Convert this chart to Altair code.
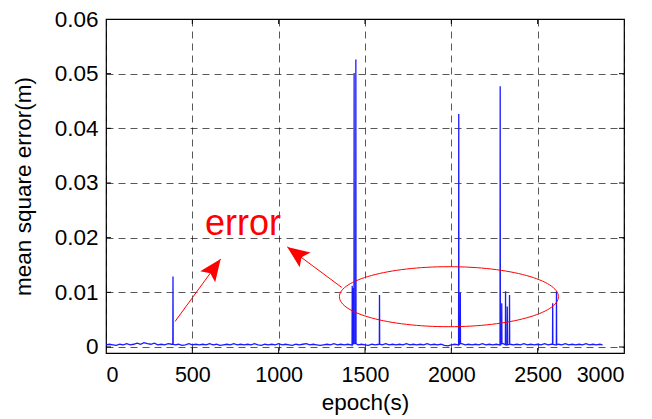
import altair as alt
import pandas as pd

# ---------------- data ----------------
# low-level error, sampled every 20 epochs (0 ... 2860), plus last epoch 2876
baseline_step = 20
baseline = [
    0.0004, 0.0005, 0.0004, 0.0003, 0.0005, 0.0004, 0.0006, 0.0004, 0.0005, 0.0007,
    0.0005, 0.0008, 0.0006, 0.0005, 0.0007, 0.0004, 0.0005, 0.0004, 0.0006, 0.0005,
    0.0004, 0.0005, 0.0003, 0.0004, 0.0006, 0.0004, 0.0005, 0.0004, 0.0005, 0.0004,
    0.0006, 0.0004, 0.0005, 0.0003, 0.0004, 0.0005, 0.0004, 0.0006, 0.0004, 0.0005,
    0.0004, 0.0005, 0.0004, 0.0006, 0.0004, 0.0003, 0.0005, 0.0004, 0.0005, 0.0004,
    0.0006, 0.0004, 0.0005, 0.0004, 0.0003, 0.0005, 0.0004, 0.0005, 0.0006, 0.0004,
    0.0005, 0.0004, 0.0003, 0.0004, 0.0005, 0.0004, 0.0006, 0.0004, 0.0005, 0.0004,
    0.0005, 0.0004, 0.0006, 0.0004, 0.0005, 0.0004, 0.0003, 0.0005, 0.0004, 0.0005,
    0.0004, 0.0006, 0.0004, 0.0005, 0.0004, 0.0005, 0.0004, 0.0006, 0.0004, 0.0005,
    0.0004, 0.0005, 0.0004, 0.0006, 0.0004, 0.0005, 0.0004, 0.0005, 0.0003, 0.0002,
    0.0004, 0.0005, 0.0004, 0.0006, 0.0004, 0.0005, 0.0004, 0.0005, 0.0004, 0.0006,
    0.0004, 0.0005, 0.0004, 0.0005, 0.0004, 0.0006, 0.0004, 0.0005, 0.0004, 0.0005,
    0.0004, 0.0006, 0.0004, 0.0005, 0.0004, 0.0005, 0.0004, 0.0006, 0.0004, 0.0005,
    0.0004, 0.0005, 0.0004, 0.0006, 0.0004, 0.0005, 0.0004, 0.0005, 0.0004, 0.0006,
    0.0004, 0.0005, 0.0004, 0.0005,
]
last_epoch = 2876
last_value = 0.0004

# error spikes (epoch, mean square error)
spike_epochs = [388, 1426, 1432, 1437, 1447, 1584, 2043, 2052,
                2283, 2292, 2314, 2324, 2337, 2587, 2609]
spike_values = [0.0129, 0.0112, 0.0108, 0.0501, 0.0526, 0.0095, 0.0426, 0.0099,
                0.0477, 0.0080, 0.0102, 0.0074, 0.0095, 0.0080, 0.0102]

x_ticks = [0, 500, 1000, 1500, 2000, 2500, 3000]
y_ticks = [0, 0.01, 0.02, 0.03, 0.04, 0.05, 0.06]

# annotation (data coordinates)
label_text = "error"
label_pos = (573, 0.0204)
arrow_tails = [(400, 0.00467), (1365, 0.0109)]
arrow_tips = [(664, 0.0161), (1050, 0.0183)]
arrow_angles = [36, 306]
ellipse_center = (1986, 0.0092)

# ---------------- build the series ----------------
points = {}
for i, v in enumerate(baseline):
    points[i * baseline_step] = v
points[last_epoch] = last_value
for e, v in zip(spike_epochs, spike_values):
    b = baseline[min(round(e / baseline_step), len(baseline) - 1)]
    points.setdefault(e - 1, b)
    points.setdefault(e + 1, b)
for e, v in zip(spike_epochs, spike_values):
    points[e] = v
series = pd.DataFrame(sorted(points.items()), columns=["epoch", "mse"])

W, H = 518, 334
FONT = "Liberation Sans"
x_scale = alt.Scale(domain=[0, 3000], nice=False, zero=False)
y_scale = alt.Scale(domain=[-0.0011, 0.06], nice=False, zero=False)

line = alt.Chart(series).mark_line(color="#1a1aff", strokeWidth=1.3, clip=True).encode(
    x=alt.X("epoch:Q", scale=x_scale,
            axis=alt.Axis(values=x_ticks, title="epoch(s)", grid=True, ticks=False,
                          domain=False, labelPadding=11, titlePadding=6, format="d",
                          labelFontSize=21.5,
                          gridDash=[7, 5], gridColor="#000", gridOpacity=0.65)),
    y=alt.Y("mse:Q", scale=y_scale,
            axis=alt.Axis(values=y_ticks, title="mean square error(m)", grid=True,
                          ticks=False, domain=False, labelPadding=8, titlePadding=19,
                          labelFontSize=22.5,
                          labelExpr="datum.value == 0 ? '0' : format(datum.value, '.2f')",
                          gridDash=[7, 5], gridColor="#000", gridOpacity=0.65)),
)

# inward tick marks (MATLAB style)
xt = pd.DataFrame({"t": x_ticks[1:-1]})
yt = pd.DataFrame({"t": y_ticks[:-1]})
tick_bottom = alt.Chart(xt).mark_rule(color="black").encode(
    x=alt.X("t:Q", scale=x_scale), y=alt.value(H - 5), y2=alt.value(H))
tick_top = alt.Chart(xt).mark_rule(color="black").encode(
    x=alt.X("t:Q", scale=x_scale), y=alt.value(0), y2=alt.value(5))
tick_left = alt.Chart(yt).mark_rule(color="black").encode(
    y=alt.Y("t:Q", scale=y_scale), x=alt.value(0), x2=alt.value(5))
tick_right = alt.Chart(yt).mark_rule(color="black").encode(
    y=alt.Y("t:Q", scale=y_scale), x=alt.value(W - 5), x2=alt.value(W))

# annotations
txt = alt.Chart(pd.DataFrame({"x": [label_pos[0]], "y": [label_pos[1]], "s": [label_text]})).mark_text(
    align="left", baseline="alphabetic", font=FONT, fontSize=36, color="#FF0000").encode(
    x=alt.X("x:Q", scale=x_scale), y=alt.Y("y:Q", scale=y_scale), text="s:N")

arr = pd.DataFrame({
    "x": [t[0] for t in arrow_tails], "y": [t[1] for t in arrow_tails],
    "x2": [t[0] for t in arrow_tips], "y2": [t[1] for t in arrow_tips],
    "ang": arrow_angles,
})
shafts = alt.Chart(arr).mark_rule(color="#FF0000", strokeWidth=1).encode(
    x=alt.X("x:Q", scale=x_scale), y=alt.Y("y:Q", scale=y_scale), x2="x2:Q", y2="y2:Q")
head_path = "M0,0 L-0.42,1 L0,0.8 L0.42,1 Z"
heads = alt.Chart(arr).mark_point(shape=head_path, filled=True, color="#FF0000",
                                  size=1936, opacity=1).encode(
    x=alt.X("x2:Q", scale=x_scale), y=alt.Y("y2:Q", scale=y_scale),
    angle=alt.Angle("ang:Q", scale=None))

ellipse_path = ("M-1,0 C-1,-0.1513 -0.5523,-0.274 0,-0.274 C0.5523,-0.274 1,-0.1513 1,0 "
                "C1,0.1513 0.5523,0.274 0,0.274 C-0.5523,0.274 -1,0.1513 -1,0 Z")
ell = alt.Chart(pd.DataFrame({"x": [ellipse_center[0]], "y": [ellipse_center[1]]})).mark_point(
    shape=ellipse_path, filled=False, color="#FF0000", strokeWidth=1, size=219 * 219, opacity=1).encode(
    x=alt.X("x:Q", scale=x_scale), y=alt.Y("y:Q", scale=y_scale))

chart = alt.layer(line, tick_bottom, tick_top, tick_left, tick_right,
                  ell, shafts, heads, txt).properties(
    width=W, height=H,
    autosize=alt.AutoSizeParams(type="none"),
    padding={"left": 98, "top": 11, "right": 20, "bottom": 66},
    background="white",
).configure_view(stroke="black", strokeWidth=1.2).configure_axis(
    labelFont=FONT, titleFont=FONT, labelFontSize=21, titleFontSize=22.5,
    labelColor="black", titleColor="black", titleFontWeight="normal",
)

chart.save("out.html", embed_options={"renderer": "svg", "actions": False})
